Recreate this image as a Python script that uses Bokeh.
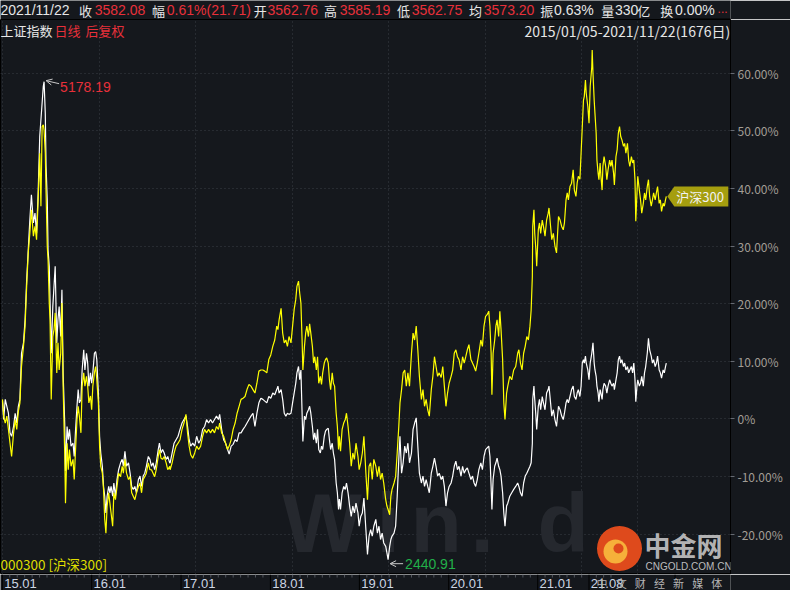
from bokeh.plotting import figure
from bokeh.layouts import column
from bokeh.models import Range1d, FixedTicker, Label, Arrow, OpenHead
from bokeh.embed import file_html
from bokeh.resources import INLINE

# ---------------- data ----------------
# trading-day index since 2015/01/05
days = [0, 3, 7, 11, 15, 19, 23, 28, 32, 36, 40, 44, 48, 53, 57, 61, 65, 69, 73, 78, 82, 86, 90, 94, 97,
        100, 103, 105, 108, 110, 113, 115, 118, 120, 123, 127, 130, 133, 137, 140, 143, 147, 150, 153, 157,
        159, 163, 166, 169, 173, 178, 181, 184, 188, 191, 194, 198, 201, 205, 208, 212, 215, 218, 222, 225,
        228, 232, 235, 238, 242, 245, 248, 252, 255, 258, 261, 264, 268, 271, 274, 278, 281, 285, 289, 293,
        298, 302, 305, 309, 313, 318, 322, 326, 330, 334, 338, 343, 347, 351, 355, 359, 363, 368, 372, 376,
        380, 384, 388, 393, 396, 400, 404, 408, 413, 417, 422,
        423, 428, 433, 438, 443, 448, 453, 458, 463, 467, 471, 475, 480, 485, 490, 495, 500, 505, 510, 515,
        520, 525, 530, 535, 540, 545, 548, 553, 558, 563, 568, 572, 577, 582, 587, 592, 597, 602, 607, 612,
        617, 622, 627, 632, 637, 642, 647, 652, 657, 662, 667, 672, 677, 682, 687, 692, 695, 698, 703, 707,
        711, 715, 719, 723, 728, 732, 736, 740, 743, 747, 750, 753, 756, 758, 762, 765, 768, 772, 775, 778,
        782, 785, 788, 792, 795, 798, 802, 805, 808, 812, 815, 818, 822, 825, 828, 832, 835, 838, 842, 845, 848,
        850, 853, 857, 861, 865, 868, 872, 876, 880, 884, 888, 892, 897, 900, 904, 908, 912, 917, 921, 925,
        929, 933, 937, 942, 946, 950, 954, 958, 962, 967, 970, 973, 977, 980, 983, 988, 992, 996, 1000, 1003,
        1007, 1011, 1015, 1019, 1023, 1027, 1032, 1036, 1040, 1044, 1048, 1052, 1057, 1061, 1065, 1069, 1073,
        1077, 1082, 1086, 1090, 1094, 1098, 1102, 1107, 1111, 1115, 1119, 1123, 1127, 1132, 1136, 1140, 1144,
        1148, 1152, 1157, 1161, 1165, 1169, 1173, 1177, 1182, 1186, 1190, 1194, 1198, 1202, 1207, 1211, 1215,
        1219, 1223, 1227, 1230, 1233, 1235, 1238, 1242, 1245, 1248, 1252, 1255, 1258, 1262, 1265, 1268, 1272,
        1275, 1280, 1285, 1290, 1295, 1300, 1303, 1307, 1311, 1315, 1319, 1323, 1327, 1331, 1334, 1337, 1338,
        1341, 1343, 1346, 1348, 1352, 1355, 1358, 1362, 1365, 1369, 1373, 1377, 1379, 1383, 1386, 1390, 1394,
        1398, 1403, 1407, 1411, 1415, 1418, 1422, 1425, 1428, 1432, 1436, 1440, 1443, 1447, 1450, 1453, 1457,
        1460, 1463, 1466, 1468, 1471, 1473, 1477, 1480, 1483, 1487, 1488, 1490, 1493, 1495, 1498, 1500, 1503,
        1505, 1508, 1510, 1513, 1515, 1518, 1522, 1525, 1528, 1532, 1535, 1538, 1542, 1544, 1548, 1551, 1554,
        1557, 1560, 1563, 1567, 1570, 1573, 1577, 1580, 1583, 1587, 1590, 1593, 1596, 1598, 1601, 1603, 1607,
        1610, 1613, 1617, 1620, 1623, 1627, 1630, 1633, 1637, 1640, 1643, 1647, 1650, 1653, 1657, 1660, 1663,
        1667, 1670, 1673, 1675]

# 上证指数 (white), % change
sse_pct = [3.1, -0.1, 3.4, 2.2, 1.0, -2.4, -3.0, -1.3, 1.0, -0.7, 2.2, 3.4, 11.4, 13.2, 17.2, 24.1, 29.3, 34.5,
           38.9, 34.0, 35.7, 32.2, 39.2, 49.0, 51.9, 54.8, 57.7, 58.5, 53.0, 43.8, 38.0, 29.3, 26.5, 20.7, 11.4,
           19.5, 23.0, 26.5, 13.2, 17.2, 19.5, 14.3, 22.4, 8.0, -0.7, -9.0, -1.3, -3.6, -1.8, -4.7, -4.2, -6.5,
           -2.4, 2.2, 5.1, 2.8, 3.4, 8.5, 12.0, 8.5, 11.4, 9.7, 5.7, 8.0, 6.2, 8.0, 11.4, 11.7, 10.3, 4.5, -3.0,
           -5.9, -8.2, -11.7, -13.4, -16.3, -13.4, -11.7, -12.8, -11.7, -13.4, -11.1, -13.4, -10.5, -8.8, -7.6,
           -7.0, -8.2, -5.6, -8.2, -7.6, -9.4, -11.7, -12.2, -11.7, -12.8, -10.5, -9.9, -11.7, -9.9, -9.4, -8.2,
           -6.5, -7.0, -8.2, -7.6, -8.8, -7.6, -5.3, -4.2, -5.9, -5.3, -5.9, -7.0, -6.5, -7.6,
           -7.6, -5.9, -4.2, -3.6, -3.0, -1.8, -0.7, -0.1, 0.5, -1.3, -3.6, -4.7, -4.2, -4.7, -3.0, -4.2, -3.6,
           -1.8, -1.3, -0.1, -0.7, -0.1, -0.7, -0.1, 0.5, -0.1, 0.8, -1.8, -3.6, -4.2, -5.3, -6.1, -4.7, -4.4,
           -3.6, -3.9, -2.4, -2.4, -1.8, -1.3, -0.7, -0.1, 0.5, 1.0, -1.3, 1.0, 2.8, 3.6, 3.4, 3.1, 2.8, 3.9,
           3.6, 4.5, 4.2, 5.1, 5.7, 4.5, 5.1, 3.4, 1.0, 0.5, 1.0, 0.8, 1.0, 2.8, 4.5, 6.2, 8.0, 9.1, 6.8, 8.5,
           1.0, -3.9, 0.5, -0.1, 1.0, 1.6, 2.2, 1.0, -1.3, -3.6, -2.4, -4.2, -1.8, -5.3, -5.9, -4.7, -5.3, -3.0,
           -2.1, -1.8, -1.6, -3.6, -5.3, -4.2, -5.9, -7.0, -11.1, -12.8, -15.7,
           -13.9, -15.7, -12.8, -11.7, -12.2, -11.1, -12.8, -15.1, -16.9, -15.1, -16.3, -14.6, -16.3, -18.6,
           -16.9, -16.3, -13.7, -19.2, -23.5, -20.3, -19.2, -20.3, -18.6, -17.4, -19.8, -18.6, -20.9, -19.8,
           -21.5, -22.1, -23.2, -24.4, -22.1, -20.9, -20.3, -19.8, -18.6, -13.4, -7.0, -3.0, -9.4, -7.6, -4.7,
           -5.9, -4.2, -7.6, -5.9, -1.8, -0.7, 0.2, -4.7, -9.4, -11.1, -9.9, -11.7, -10.5, -11.7, -12.8, -9.4,
           -8.2, -6.8, -8.2, -9.9, -9.4, -10.5, -9.9, -11.7, -15.1, -12.8, -11.7, -11.1, -9.9, -8.2, -7.3, -8.8,
           -8.2, -9.9, -8.2, -9.4, -8.8, -8.5, -9.4, -10.5, -9.9, -11.1, -11.7, -10.5, -8.8, -7.6, -8.8, -6.5,
           -5.3, -5.0, -4.7, -6.5, -11.7, -15.7, -10.5, -8.2, -7.6, -6.8, -8.2, -8.8, -9.9, -12.8, -16.3, -18.6,
           -15.1,
           -14.6, -13.4, -12.8, -12.2, -11.7, -11.1, -11.7, -12.8, -13.4, -11.1, -9.9, -9.4, -8.8, -8.2, -7.6,
           -4.2, 3.4, 5.7, 3.4, 0.5, -1.8, 2.2, 3.4, 1.6, 3.9, 2.8, 1.6, 4.5, 5.1, 5.7, 2.8, 0.5, 1.6, -0.1, -1.3,
           2.2, 1.6, 0.5, -0.1, 1.0, 2.8, 3.4, 2.8, 3.9, 5.1, 5.7, 3.9, 3.4, 4.5, 5.1, 3.9, 5.7, 9.7, 10.3, 9.7,
           10.9, 9.7, 8.5, 6.8, 9.7, 11.4, 12.0, 13.2, 9.7, 8.5, 7.4, 5.7, 4.5, 3.0, 5.1, 4.5, 3.4, 5.1, 6.2, 5.7,
           4.5, 5.7, 6.8, 6.2, 5.7, 6.2, 5.1, 6.8, 8.0, 10.3, 10.9, 9.7, 10.3, 9.1, 9.7, 8.5, 9.1, 8.0, 8.5, 9.1,
           8.0, 9.7, 6.8, 3.0, 5.7, 6.8, 5.7, 6.2, 7.4, 5.7, 8.0, 9.1, 11.4, 14.0, 12.0, 10.9, 9.7, 10.3, 9.1,
           9.7, 10.9, 8.5, 8.0, 7.1, 8.5, 8.0, 9.1, 9.7]

# 沪深300 (yellow), % change
csi_pct = [3.4, 0.5, -0.7, 0.5, -1.8, -4.2, -6.5, -2.4, -0.1, -1.8, 1.3, 2.8, 9.1, 12.6, 16.1, 23.0, 28.8, 32.2,
           36.3, 31.7, 33.4, 31.1, 38.0, 46.1, 36.9, 50.7, 51.0, 50.1, 46.1, 39.2, 29.9, 27.6, 20.1, 17.2, 3.4,
           14.3, 15.5, 18.4, 8.0, 13.2, 8.5, 11.4, 20.1, 5.7, -5.9, -14.6, -4.2, -8.8, -5.3, -8.2, -7.0, -10.5,
           -5.9, -0.1, 2.2, 0.5, -2.4, 5.7, 8.0, 5.7, 7.4, 5.7, 2.8, 4.0, 1.6, 5.7, 8.0, 9.1, 6.8, 2.8, -4.7,
           -8.2, -9.4, -12.2, -17.4, -19.8, -15.1, -12.8, -14.6, -16.3, -18.6, -12.8, -14.0, -11.7, -9.4, -10.0,
           -8.2, -9.4, -7.0, -9.4, -10.5, -10.0, -12.8, -13.4, -14.0, -12.8, -11.7, -11.1, -12.8, -10.5, -10.0,
           -9.4, -7.6, -8.8, -8.8, -9.4, -10.0, -8.8, -6.5, -5.3, -6.8, -7.0, -6.5, -7.6, -8.8, -8.2,
           -8.8, -7.6, -5.9, -4.7, -4.2, -3.6, -1.8, -0.7, 0.8, -2.4, -4.7, -6.2, -6.8, -5.9, -4.7, -5.3, -4.7,
           -3.0, -1.8, -2.4, -1.8, -2.4, -1.8, -2.4, -1.3, -1.8, -0.7, -2.4, -3.0, -4.2, -5.3, -4.7, -3.6, -1.8,
           -0.7, 1.0, 2.2, 3.4, 3.6, 3.9, 5.1, 6.0, 5.7, 5.1, 4.5, 6.2, 8.3, 8.5, 8.5, 8.3, 8.0, 10.3, 11.1, 12.6,
           13.7, 16.1, 15.5, 17.2, 19.2, 14.9, 13.2, 13.7, 12.6, 14.3, 13.2, 16.1, 19.0, 20.7, 23.0, 23.9, 21.8,
           20.1, 13.7, 8.5, 12.6, 14.9, 16.1, 14.3, 16.5, 14.9, 12.6, 9.7, 10.8, 8.5, 10.8, 6.2, 7.4, 6.0, 8.0,
           9.7, 10.3, 10.6, 9.7, 6.8, 5.1, 8.0, 6.2, 5.7, 1.0, -1.3, -5.3,
           -3.0, -5.6, -1.8, -0.7, -0.1, 1.0, -1.3, -4.2, -8.2, -5.9, -7.0, -4.2, -6.5, -8.8, -7.6, -5.9, -3.0,
           -9.4, -14.0, -8.2, -7.6, -10.5, -7.0, -8.2, -10.0, -8.2, -10.5, -9.4, -11.1, -14.0, -15.1, -15.7,
           -16.6, -13.4, -12.2, -11.1, -10.0, -5.9, -1.3, 2.8, 5.1, 8.0, 8.5, 5.7, 8.0, 5.7, 11.4, 14.9, 13.7,
           16.1, 12.0, 7.4, 3.4, 5.1, 2.2, 3.4, 1.6, 0.5, 5.1, 7.4, 10.8, 9.1, 7.4, 8.0, 7.2, 9.1, 5.7, 2.2, 4.5,
           6.2, 7.4, 8.5, 11.4, 12.0, 10.8, 10.3, 8.5, 10.8, 9.7, 10.8, 12.0, 12.9, 10.3, 9.7, 9.1, 8.3, 9.7,
           11.4, 13.7, 12.6, 16.1, 17.8, 18.1, 18.7, 16.1, 11.4, 4.2, 11.4, 13.7, 16.1, 17.2, 14.3, 18.7, 15.5,
           10.3, 2.8, -0.1, 4.5,
           5.7, 7.4, 6.8, 8.5, 9.1, 11.4, 12.0, 9.7, 8.5, 11.4, 12.6, 14.3, 13.7, 16.1, 18.9, 24.7, 33.4, 36.3,
           32.2, 29.3, 26.5, 32.8, 34.0, 32.2, 34.5, 33.4, 31.7, 34.5, 35.7, 36.6, 33.4, 31.1, 32.2, 30.0, 28.8,
           35.1, 34.5, 33.4, 32.8, 34.0, 38.0, 39.2, 38.0, 40.3, 40.9, 43.2, 39.7, 38.6, 40.9, 42.1, 41.6, 46.1,
           50.7, 55.3, 55.9, 58.8, 56.5, 54.2, 51.3, 57.7, 61.1, 64.0, 60.0, 55.3, 53.0, 49.6, 44.9, 42.6, 41.5,
           44.4, 42.1, 39.7, 43.8, 45.5, 43.8, 41.5, 43.2, 44.9, 43.8, 44.9, 42.6, 40.6, 45.5, 46.7, 49.6, 50.7,
           49.0, 48.4, 47.3, 47.8, 46.1, 47.8, 44.9, 43.8, 45.5, 44.4, 44.9, 41.5, 34.3, 39.2, 42.1, 39.7, 38.0,
           35.7, 37.4, 39.2, 38.0, 40.3, 41.5, 38.6, 36.9, 38.0, 39.2, 38.0, 39.2, 40.3, 37.4, 38.0, 36.0, 37.4,
           36.9, 38.0, 38.6]

sse_high = "5178.19"
sse_low = "2440.91"

year_ticks = [0, 244, 488, 732, 975, 1219, 1462, 1602]
year_labels = ["15.01", "16.01", "17.01", "18.01", "19.01", "20.01", "21.01", "21.08"]
pct_ticks = [-20, -10, 0, 10, 20, 30, 40, 50, 60]
pct_labels = ["-20.00%", "-10.00%", "0%", "10.00%", "20.00%", "30.00%", "40.00%", "50.00%", "60.00%"]

hdr_text = ["2021/11/22", "收", "3582.08", "幅", "0.61%(21.71)", "开", "3562.76", "高", "3585.19",
            "低", "3562.75", "均", "3573.20", "振", "0.63%", "量", "330", "亿", "换", "0.00%"]
hdr_red = [False, False, True, False, True, False, True, False, True,
           False, True, False, True, False, False, False, False, False, False, False]
hdr_cjk = [False, True, False, True, False, True, False, True, False,
           True, False, True, False, True, False, True, False, True, True, False]
hdr_x = [8, 93, 110, 172, 188, 282, 297, 358, 375, 437, 453, 515, 531, 592, 607, 658, 673, 697, 722, 738]

# ---------------- styling ----------------
BG = "#15181d"
GRID = "#3b3f47"
RED = "#e8303a"
WHITE = "#e6e6e6"
GREEN = "#22b04a"
FONT = "Noto Sans CJK SC"
LAT = "Liberation Sans"

X0, X1 = -5, 1837
FL, FR, FT, FB = 8, 738, 27, 582   # main frame edges on the page (px)
Y0 = -26.97
Y1 = Y0 + (FB - FT) / 5.766
KX = (X1 - X0) / (FR - FL)
KY = (Y1 - Y0) / (FB - FT)


def dx(px):
    return X0 + (px - FL) * KX


def dy(py):
    return Y0 + (FB - py) * KY


def strip(height, xr, yr):
    f = figure(width=790, height=height, x_range=xr, y_range=yr, toolbar_location=None,
               output_backend="svg", title=None, x_axis_location=None, y_axis_location=None,
               min_border_left=0, min_border_right=0, min_border_top=0, min_border_bottom=0,
               background_fill_color=BG, border_fill_color=BG, outline_line_color=None)
    f.xgrid.visible = False
    f.ygrid.visible = False
    return f


def lbl(fig, txt, x, y, color, size="14px", align="left", font=FONT, style="normal",
        baseline="middle", level="annotation", alpha=1.0):
    fig.add_layout(Label(x=x, y=y, text=txt, text_color=color, text_font_size=size,
                         text_align=align, text_baseline=baseline, text_font=font,
                         text_font_style=style, level=level, text_alpha=alpha))


# ---------------- header strip (page y 8..27) ----------------
hdr = strip(FT - 8, Range1d(0, 790), Range1d(FT - 8, 0))
hdr.segment(x0=[730], y0=[18.5], x1=[790], y1=[18.5], line_color="#000000", line_width=1)
for t, red, cjk, px in zip(hdr_text, hdr_red, hdr_cjk, hdr_x):
    if cjk:
        lbl(hdr, t, px - 8, 9.5, RED if red else WHITE, size="13px", font=FONT)
    else:
        lbl(hdr, t, px - 8, 9.5, RED if red else WHITE, size="14px", font=LAT)
lbl(hdr, "...", 776, 8, RED, size="12px", font=LAT)

# ---------------- main chart (page y 27..582) ----------------
p = figure(width=790, height=FB - FT, x_range=Range1d(X0, X1), y_range=Range1d(Y0, Y1),
           x_axis_location=None, y_axis_location="right", toolbar_location=None,
           output_backend="svg", title=None,
           min_border_left=0, min_border_right=60, min_border_top=0, min_border_bottom=0,
           background_fill_color=BG, border_fill_color=BG, outline_line_color="#000000")

p.yaxis.ticker = FixedTicker(ticks=pct_ticks)
p.yaxis.major_label_overrides = dict(zip(pct_ticks, pct_labels))
p.yaxis.axis_line_color = "#000000"
p.yaxis.major_tick_out = 4
p.yaxis.major_tick_in = 0
p.yaxis.major_tick_line_color = "#666a72"
p.yaxis.minor_tick_line_color = None
p.yaxis.major_label_standoff = 3
p.yaxis.major_label_text_font = FONT
p.yaxis.major_label_text_font_size = "12px"
p.yaxis.major_label_text_color = "#a29d95"

p.xgrid.ticker = FixedTicker(ticks=year_ticks)
for g in (p.xgrid, p.ygrid):
    g.grid_line_color = GRID
    g.grid_line_dash = "1 3"
    g.grid_line_width = 1

# Wind watermark (behind the lines)
for ch, px in zip(["W", "i", "n", ".", "d"], [290, 384, 418, 478, 545]):
    lbl(p, ch, dx(px), dy(530), "#25282e", size="84px", font=LAT, style="bold",
        baseline="alphabetic", level="underlay")

# series
p.line(days, sse_pct, line_color="#ffffff", line_width=1.2)
p.line(days, csi_pct, line_color="#ffff00", line_width=1.2)

# peak / trough annotations on the index line
i_hi = max(range(len(sse_pct)), key=lambda i: sse_pct[i])
i_lo = min(range(len(sse_pct)), key=lambda i: sse_pct[i])
hx, hy = days[i_hi], sse_pct[i_hi]
lx, ly = days[i_lo], sse_pct[i_lo]
p.add_layout(Arrow(end=OpenHead(size=6, line_color="#c8c8c8", line_width=1),
                   x_start=hx + 15 * KX, y_start=hy - 2 * KY, x_end=hx + 2 * KX, y_end=hy + 1 * KY,
                   line_color="#c8c8c8", line_width=1))
lbl(p, sse_high, hx + 16 * KX, hy - 5 * KY, RED, font=LAT)
p.add_layout(Arrow(end=OpenHead(size=6, line_color="#c8c8c8", line_width=1),
                   x_start=lx + 15 * KX, y_start=ly - 4 * KY, x_end=lx + 2 * KX, y_end=ly - 4 * KY,
                   line_color="#c8c8c8", line_width=1))
lbl(p, sse_low, lx + 17 * KX, ly - 4 * KY, GREEN, font=LAT)

# last-value tag of 沪深300
tx, tv = days[-1], csi_pct[-1]
p.patch([tx + 1 * KX, tx + 8 * KX, tx + 62 * KX, tx + 62 * KX, tx + 8 * KX],
        [tv, tv + 10 * KY, tv + 10 * KY, tv - 10 * KY, tv - 10 * KY],
        fill_color="#a59e0f", line_color=None)
lbl(p, "沪深300", tx + 10 * KX, tv, "#f2f2f2", size="13px")

# second header row
lbl(p, "上证指数", dx(8), dy(38), WHITE, size="13px")
lbl(p, "日线", dx(62), dy(38), RED, size="13px")
lbl(p, "后复权", dx(93), dy(38), RED, size="13px")
lbl(p, "2015/01/05-2021/11/22(1676日)", dx(532), dy(38), WHITE, size="14px")

# legend bottom-left
lbl(p, "000300 [沪深300]", dx(8), dy(571), "#dede00", size="13.5px")

# 中金网 watermark logo
p.scatter([dx(627)], [dy(556)], size=45, marker="circle", fill_color="#de4a1c", line_color=None)
p.scatter([dx(623)], [dy(559)], size=24, marker="circle", fill_color="#f6b03a", line_color=None)
p.scatter([dx(626)], [dy(556)], size=10, marker="circle", fill_color="#de4a1c", line_color=None)
lbl(p, "中金网", dx(652), dy(552), "#c9c9c9", size="26px", style="bold", alpha=0.9)
lbl(p, "CNGOLD.COM.CN", dx(653), dy(574), "#bdbdbd", size="10px", font=LAT)

# ---------------- bottom axis strip (page y 582..598) ----------------
bot = strip(16, Range1d(X0, X0 + 790 * KX), Range1d(16, 0))
minor = []
for a, b in zip(year_ticks[:6], year_ticks[1:7]):
    minor += [a + (b - a) * k / 12 for k in range(1, 12)]
minor += [1462 + 20 * k for k in range(1, 7)] + [1622, 1642, 1662]
bot.segment(x0=minor, y0=[0] * len(minor), x1=minor, y1=[3] * len(minor), line_color="#50545c")
bot.segment(x0=year_ticks, y0=[0] * len(year_ticks), x1=year_ticks, y1=[16] * len(year_ticks),
            line_color="#000000")
bot.segment(x0=[X1], y0=[0], x1=[X1], y1=[16], line_color="#000000")
for t, lab in zip(year_ticks, year_labels):
    lbl(bot, lab, t + 2 * KX, 8.5, "#cdd6e4", size="13px", font=LAT)
for k, ch in enumerate("中文财经新媒体"):
    lbl(bot, ch, dx(653 + 20.7 * k), 8, "#b5b5b5", size="11px")

layout = column(hdr, p, bot, spacing=0)
open("out.html", "w").write(file_html(layout, INLINE))
